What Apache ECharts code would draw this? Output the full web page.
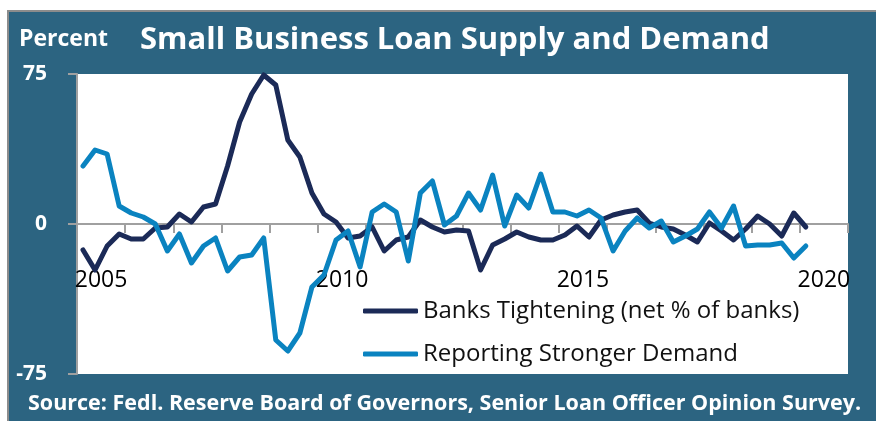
<!DOCTYPE html>
<html>
<head>
<meta charset="utf-8">
<script src="https://cdn.jsdelivr.net/npm/echarts@6/dist/echarts.min.js"></script>
<style>
html,body{margin:0;padding:0;background:#fff;}
#chart{width:876px;height:421px;}
</style>
</head>
<body>
<div id="chart"></div>
<script>
// Year categories shown on the x axis (quarterly data, 2005Q1 - 2020Q1)
const years = ['2005','2006','2007','2008','2009','2010','2011','2012','2013','2014','2015','2016','2017','2018','2019','2020'];
const shownYears = ['2005','2010','2015','2020'];
const yTicks = [-75, 0, 75];

// Banks Tightening (net % of banks), quarterly from 2005Q1
const tightening = [
  -13, -23, -11, -5, -7.5, -7.5, -2, -1.5, 5, 1,
  8.5, 10, 29, 51, 65, 74.5, 69.5, 42, 33.5, 15.5,
  5, 1, -7, -6, -1.5, -13.5, -8, -6.5, 2, -1.5,
  -4, -3, -3.5, -23, -10.5, -7.5, -4, -6.5, -8, -8,
  -5.5, -1, -6.5, 2, 4.5, 6, 7, 0.5, -1.5, -2.5,
  -5.5, -9, 0.5, -3.5, -8, -2.5, 4, 0, -6, 5.5,
  -1.5
];

// Reporting Stronger Demand, quarterly from 2005Q1
const demand = [
  29, 37, 35, 9, 5.5, 3.5, 0, -13.5, -5, -19.5,
  -11, -7, -23.5, -16.5, -15.5, -7, -58, -63.5, -54.5, -31.5,
  -25.5, -8, -3.5, -21.5, 6, 10, 6, -18.5, 15.5, 21.5,
  -0.5, 4, 15.5, 7, 24.5, -1, 14.5, 8, 25, 6,
  6, 4, 7, 3, -13.5, -3.5, 3, -2, 1.5, -9,
  -6, -2.5, 6, -2, 9, -11, -10.5, -10.5, -9.5, -17,
  -11
];

const seriesNames = ['Banks Tightening (net % of banks)', 'Reporting Stronger Demand'];
const seriesColors = ['#1b2a57', '#0a83c0'];

const BG = '#2c6481';
const FONT = '"Open Sans"';

const chart = echarts.init(document.getElementById('chart'), null, {renderer:'canvas'});
const toPts = arr => arr.map((v, i) => [i + 0.5, v]);

chart.setOption({
  backgroundColor: BG,
  animation: false,
  textStyle: {fontFamily: FONT},
  title: [
    {text: 'Small Business Loan Supply and Demand', left: 140, top: 25, padding: 0,
     textStyle: {color: '#fff', fontSize: 31, fontWeight: 'bold', fontFamily: FONT}},
    {text: 'Percent', left: 19, top: 28, padding: 0,
     textStyle: {color: '#fff', fontSize: 23, fontWeight: 'bold', fontFamily: FONT}},
    {text: 'Source: Fedl. Reserve Board of Governors, Senior Loan Officer Opinion Survey.', left: 28, top: 393, padding: 0,
     textStyle: {color: '#fff', fontSize: 21.5, fontWeight: 'bold', fontFamily: FONT}}
  ],
  graphic: [
    {type: 'rect', shape: {x: 0, y: 0, width: 876, height: 10}, style: {fill: '#fff'}, silent: true},
    {type: 'rect', shape: {x: 0, y: 0, width: 7, height: 421}, style: {fill: '#fff'}, silent: true},
    {type: 'rect', shape: {x: 7, y: 10, width: 869, height: 2}, style: {fill: '#8c8c8c'}, silent: true},
    {type: 'rect', shape: {x: 7, y: 10, width: 2, height: 411}, style: {fill: '#8c8c8c'}, silent: true}
  ],
  legend: {
    orient: 'vertical',
    left: 363, top: 299,
    padding: 0,
    itemWidth: 55, itemHeight: 5, itemGap: 19,
    icon: 'roundRect',
    data: seriesNames,
    textStyle: {color: '#111', fontSize: 24, fontFamily: FONT}
  },
  grid: {
    left: 77, top: 74, right: 28, bottom: 47,
    show: true, backgroundColor: '#fff', borderWidth: 0,
    containLabel: false, outerBoundsMode: 'none'
  },
  xAxis: [
    {
      type: 'category',
      data: years,
      boundaryGap: true,
      position: 'bottom',
      offset: -150,
      axisLine: {onZero: false, lineStyle: {color: '#a0a0a0', width: 2}},
      axisTick: {show: true, length: 9, interval: 0, lineStyle: {color: '#a0a0a0', width: 2}},
      axisLabel: {
        interval: 0,
        margin: 45,
        color: '#000', fontSize: 23, fontFamily: FONT,
        formatter: v => shownYears.includes(v) ? v : ''
      },
      splitLine: {show: false}
    },
    {
      type: 'value', min: 0, max: years.length * 4, show: false
    }
  ],
  yAxis: {
    type: 'value', min: yTicks[0], max: yTicks[2], interval: 75,
    axisLine: {show: true, lineStyle: {color: '#a0a0a0', width: 2}},
    axisTick: {show: true, length: 9, lineStyle: {color: '#a0a0a0', width: 2}},
    axisLabel: {color: '#fff', fontSize: 21, fontWeight: 'bold', fontFamily: FONT, margin: 30},
    splitLine: {show: false}
  },
  series: [
    {name: seriesNames[0], type: 'line', xAxisIndex: 1, data: toPts(tightening),
     symbol: 'none', color: seriesColors[0],
     lineStyle: {width: 5, color: seriesColors[0], cap: 'round', join: 'round'}},
    {name: seriesNames[1], type: 'line', xAxisIndex: 1, data: toPts(demand),
     symbol: 'none', color: seriesColors[1],
     lineStyle: {width: 5, color: seriesColors[1], cap: 'round', join: 'round'}}
  ]
});
</script>
</body>
</html>
